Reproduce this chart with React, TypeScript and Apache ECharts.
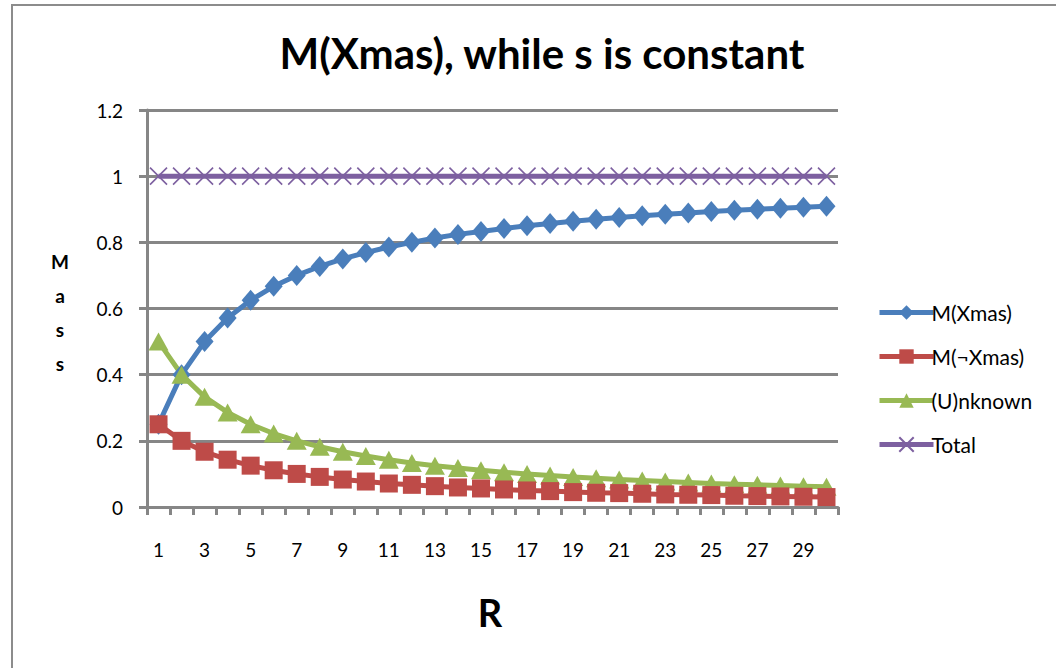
import React, { useEffect, useRef } from "react";
import * as echarts from "echarts";

const categories = ["1","2","3","4","5","6","7","8","9","10","11","12","13","14","15","16","17","18","19","20","21","22","23","24","25","26","27","28","29","30"];
const mXmas = [0.25,0.4,0.5,0.571,0.625,0.667,0.7,0.727,0.75,0.769,0.786,0.8,0.813,0.824,0.833,0.842,0.85,0.857,0.864,0.87,0.875,0.88,0.885,0.889,0.893,0.897,0.9,0.903,0.906,0.909];
const mNotXmas = [0.25,0.2,0.167,0.143,0.125,0.111,0.1,0.091,0.083,0.077,0.071,0.067,0.063,0.059,0.056,0.053,0.05,0.048,0.045,0.043,0.042,0.04,0.038,0.037,0.036,0.034,0.033,0.032,0.031,0.03];
const unknown = [0.5,0.4,0.333,0.286,0.25,0.222,0.2,0.182,0.167,0.154,0.143,0.133,0.125,0.118,0.111,0.105,0.1,0.095,0.091,0.087,0.083,0.08,0.077,0.074,0.071,0.069,0.067,0.065,0.063,0.061];
const total = [1,1,1,1,1,1,1,1,1,1,1,1,1,1,1,1,1,1,1,1,1,1,1,1,1,1,1,1,1,1];
const seriesNames = ["M(Xmas)", "M(\u00acXmas)", "(U)nknown", "Total"];

const FONT = "Lato, 'Liberation Sans', sans-serif";

export default function App() {
  const ref = useRef<HTMLDivElement>(null);
  useEffect(() => {
    if (!ref.current) return;
    const chart = echarts.init(ref.current, null, { renderer: "svg" });
    const gray = "#868686";
    chart.setOption({
      animation: false,
      backgroundColor: "#ffffff",
      textStyle: { fontFamily: FONT },
      title: {
        text: "M(Xmas), while s is constant",
        left: 537,
        top: 27,
        textAlign: "center",
        textStyle: { fontFamily: FONT, fontWeight: "bold", fontSize: 42, color: "#000" },
      },
      graphic: [
        {
          type: "rect",
          shape: { x: 12, y: 5, width: 1100, height: 720 },
          style: { fill: "none", stroke: "#8c8c8c", lineWidth: 2 },
          silent: true,
        },
        {
          type: "text",
          x: 60,
          y: 244,
          style: {
            text: "M\na\ns\ns",
            fontFamily: FONT,
            fontWeight: "bold",
            fontSize: 19,
            lineHeight: 34,
            align: "center",
            fill: "#000",
          },
        },
        {
          type: "text",
          x: 490,
          y: 612,
          style: {
            text: "R",
            fontFamily: FONT,
            fontWeight: "bold",
            fontSize: 38,
            align: "center",
            verticalAlign: "middle",
            fill: "#000",
          },
        },
      ],
      legend: {
        orient: "vertical",
        left: 872,
        top: 297,
        itemWidth: 54,
        itemHeight: 18,
        itemGap: 23,
        data: seriesNames,
        lineStyle: { width: 5 },
        textStyle: { fontFamily: FONT, fontSize: 21, color: "#000", padding: [0, 0, 0, -7] },
      },
      grid: { left: 147, right: 218, top: 110, bottom: 161 },
      xAxis: {
        type: "category",
        data: categories,
        boundaryGap: true,
        axisLine: { lineStyle: { color: gray, width: 3 } },
        axisTick: { show: true, interval: 0, length: 8, lineStyle: { color: gray, width: 3 } },
        axisLabel: { interval: 1, margin: 33, fontSize: 19, color: "#000", fontFamily: FONT },
        splitLine: { show: false },
      },
      yAxis: {
        type: "value",
        min: 0,
        max: 1.2,
        interval: 0.2,
        axisLine: { show: true, lineStyle: { color: gray, width: 3 } },
        axisTick: { show: true, length: 8, lineStyle: { color: gray, width: 3 } },
        axisLabel: { margin: 24, fontSize: 19, color: "#000", fontFamily: FONT },
        splitLine: { show: true, lineStyle: { color: gray, width: 3 } },
      },
      series: [
        {
          name: seriesNames[0],
          type: "line",
          data: mXmas,
          showAllSymbol: true,
          symbol: "diamond",
          symbolSize: [18, 21],
          color: "#4A7EBB",
          lineStyle: { width: 5, color: "#4A7EBB" },
          itemStyle: { color: "#4A7EBB" },
          z: 3,
        },
        {
          name: seriesNames[1],
          type: "line",
          data: mNotXmas,
          showAllSymbol: true,
          symbol: "rect",
          symbolSize: 18,
          color: "#BE4B48",
          lineStyle: { width: 5, color: "#BE4B48" },
          itemStyle: { color: "#BE4B48" },
          z: 4,
        },
        {
          name: seriesNames[2],
          type: "line",
          data: unknown,
          showAllSymbol: true,
          symbol: "triangle",
          symbolSize: [20, 18],
          color: "#98B954",
          lineStyle: { width: 5, color: "#98B954" },
          itemStyle: { color: "#98B954" },
          z: 3,
        },
        {
          name: seriesNames[3],
          type: "line",
          data: total,
          showAllSymbol: true,
          symbol: "path://M0,0L10,10M10,0L0,10",
          symbolSize: 17,
          color: "#7D60A0",
          lineStyle: { width: 5, color: "#7D60A0" },
          itemStyle: { color: "none", borderColor: "#7D60A0", borderWidth: 1.6 },
          z: 3,
        },
      ],
    });
    return () => chart.dispose();
  }, []);
  return (
    <div
      ref={ref}
      style={{ position: "absolute", left: 0, top: 0, width: 1056, height: 668 }}
    />
  );
}
